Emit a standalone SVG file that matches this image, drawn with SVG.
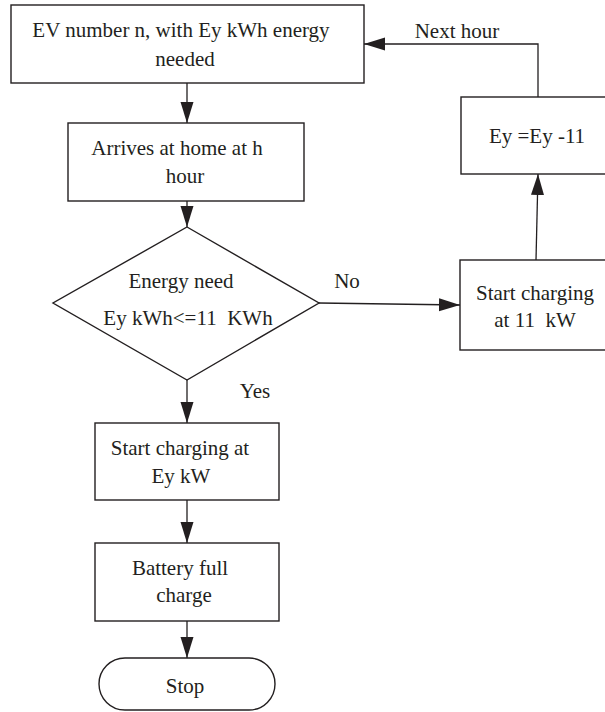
<svg xmlns="http://www.w3.org/2000/svg" width="605" height="712" viewBox="0 0 605 712">
<style>
.box{fill:#fff;stroke:#231f20;stroke-width:1.4}
.ln{fill:none;stroke:#231f20;stroke-width:1.3}
text{font-family:"Liberation Serif","Times New Roman",serif;font-size:21px;fill:#231f20;text-anchor:middle}
</style>
<defs>
<marker id="ah" markerUnits="userSpaceOnUse" markerWidth="21" markerHeight="14" refX="21" refY="7" orient="auto">
<path d="M0,0.5 L21,7 L0,13.5 z" fill="#231f20"/>
</marker>
</defs>
<rect width="605" height="712" fill="#fff"/>
<g id="connectors">
<line class="ln" x1="187" y1="83" x2="187" y2="123" marker-end="url(#ah)"/>
<line class="ln" x1="187" y1="201" x2="187" y2="227" marker-end="url(#ah)"/>
<line class="ln" x1="319" y1="303" x2="460" y2="305" marker-end="url(#ah)"/>
<line class="ln" x1="536" y1="260" x2="538" y2="174" marker-end="url(#ah)"/>
<polyline class="ln" points="538,97 538,44 364,44" marker-end="url(#ah)"/>
<line class="ln" x1="187" y1="380" x2="187" y2="423" marker-end="url(#ah)"/>
<line class="ln" x1="187" y1="500" x2="187" y2="543" marker-end="url(#ah)"/>
<line class="ln" x1="187" y1="621" x2="187" y2="658" marker-end="url(#ah)"/>
<text x="457" y="38">Next hour</text>
<text x="347" y="288">No</text>
<text x="255" y="398">Yes</text>
</g>
<g id="n1">
<rect class="box" x="11" y="5" width="353" height="78"/>
<text x="181" y="37">EV number n, with Ey kWh energy</text>
<text x="185" y="66">needed</text>
</g>
<g id="n2">
<rect class="box" x="68" y="123" width="236" height="78"/>
<text x="177" y="155">Arrives at home at h</text>
<text x="185" y="183">hour</text>
</g>
<g id="n3">
<polygon class="box" points="187,227 319,303 187,380 53,303"/>
<text x="181" y="288">Energy need</text>
<text x="188" y="325" xml:space="preserve">Ey kWh&lt;=11  KWh</text>
</g>
<g id="n4">
<rect class="box" x="460" y="260" width="160" height="90"/>
<text x="535" y="300">Start charging</text>
<text x="535" y="327" xml:space="preserve">at 11  kW</text>
</g>
<g id="n5">
<rect class="box" x="461" y="97" width="160" height="77"/>
<text x="537" y="143">Ey =Ey -11</text>
</g>
<g id="n6">
<rect class="box" x="95" y="423" width="184" height="77"/>
<text x="180" y="455">Start charging at</text>
<text x="181" y="483">Ey kW</text>
</g>
<g id="n7">
<rect class="box" x="95" y="543" width="184" height="78"/>
<text x="180" y="575">Battery full</text>
<text x="184" y="602">charge</text>
</g>
<g id="n8">
<rect class="box" x="99" y="658" width="176" height="52" rx="26" ry="26"/>
<text x="185" y="693">Stop</text>
</g>
</svg>
